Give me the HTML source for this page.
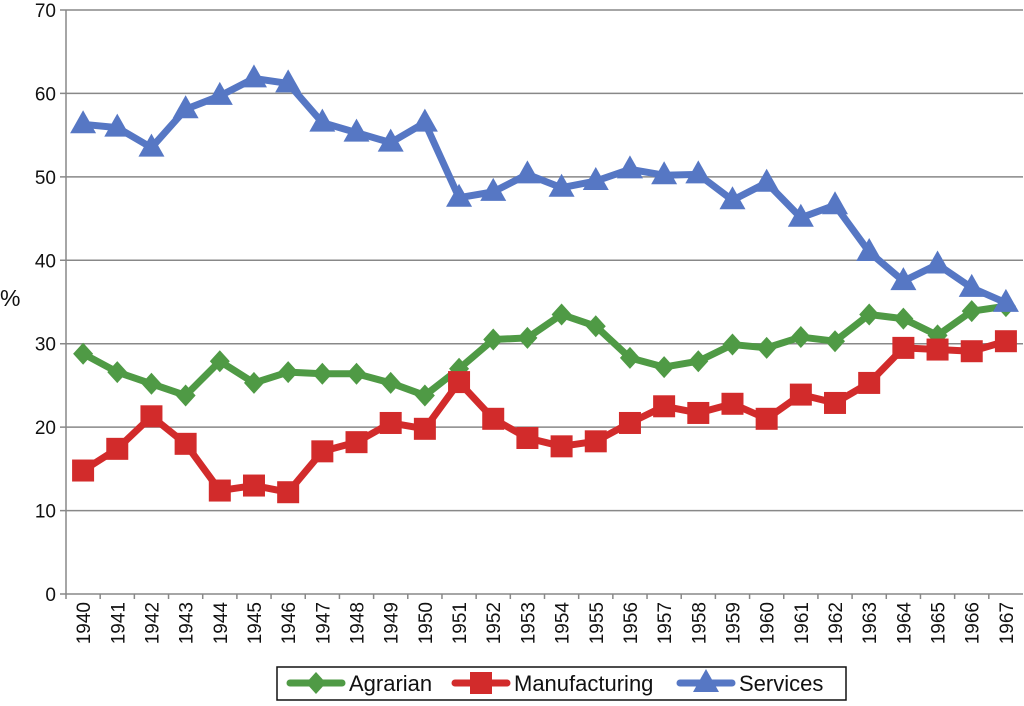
<!DOCTYPE html>
<html><head><meta charset="utf-8"><style>
body{margin:0;background:#fff;}
svg text{font-family:"Liberation Sans",sans-serif;fill:#111;}
</style></head><body>
<svg id="chart" width="1024" height="701" xmlns="http://www.w3.org/2000/svg"></svg>
<script>
const years=[1940,1941,1942,1943,1944,1945,1946,1947,1948,1949,1950,1951,1952,1953,1954,1955,1956,1957,1958,1959,1960,1961,1962,1963,1964,1965,1966,1967];
const agrarian=[28.8,26.6,25.2,23.8,27.9,25.3,26.6,26.4,26.4,25.3,23.8,27.0,30.5,30.7,33.5,32.1,28.3,27.2,27.9,29.9,29.5,30.8,30.3,33.5,33.0,31.0,33.9,34.5];
const manufacturing=[14.8,17.4,21.3,18.0,12.4,13.0,12.2,17.1,18.2,20.5,19.8,25.4,21.0,18.7,17.7,18.3,20.5,22.5,21.7,22.8,21.0,23.9,22.9,25.3,29.5,29.3,29.1,30.3];
const services=[56.3,55.9,53.5,58.1,59.7,61.8,61.2,56.5,55.3,54.1,56.5,47.5,48.2,50.3,48.7,49.5,50.9,50.2,50.3,47.2,49.3,45.1,46.6,41.0,37.5,39.5,36.7,34.9];
const yTicks=[0,10,20,30,40,50,60,70];

const svg=document.getElementById('chart');
const NS='http://www.w3.org/2000/svg';
const x0=66,x1=1023,y0=594,yTop=10,yMax=70;
const bw=(x1-x0)/years.length;
const X=i=>x0+bw*(i+0.5);
const Y=v=>y0-(v/yMax)*(y0-yTop);
function el(t,a,p){const e=document.createElementNS(NS,t);for(const k in a)e.setAttribute(k,a[k]);(p||svg).appendChild(e);return e;}

yTicks.forEach(t=>{
  const g=el('line',{x1:x0-6,x2:x1,y1:Y(t),y2:Y(t),stroke:'#888','stroke-width':1.5});
  
  
  const tx=el('text',{x:x0-10,y:Y(t)+7,'text-anchor':'end','font-size':19});
  tx.textContent=t;
  
  
});
const ax=el('line',{x1:x0,x2:x0,y1:yTop,y2:y0,stroke:'#888','stroke-width':1.5});


years.forEach((yr,i)=>{
  el('line',{x1:x0+bw*i,x2:x0+bw*i,y1:y0,y2:y0+5,stroke:'#888','stroke-width':1.5});
  const t=el('text',{x:0,y:0,'font-size':19,'text-anchor':'end',transform:`translate(${X(i)+7},${y0+8}) rotate(-90)`});
  t.textContent=yr;
  
  
});
const yl=el('text',{x:0,y:306,'font-size':23});
yl.textContent='%';



function marker(type,cx,cy,color,parent){
  if(type==='d')return el('polygon',{points:`${cx},${cy-11} ${cx+10},${cy} ${cx},${cy+11} ${cx-10},${cy}`,fill:color},parent);
  if(type==='s')return el('rect',{x:cx-11,y:cy-11,width:22,height:22,fill:color},parent);
  return el('polygon',{points:`${cx},${cy-14} ${cx+13},${cy+9} ${cx-13},${cy+9}`,fill:color},parent);
}
function series(name,data,color,type){
  const g=el('g',{});
  
  
  el('polyline',{points:data.map((v,i)=>X(i)+','+Y(v)).join(' '),fill:'none',stroke:color,'stroke-width':7,'stroke-linejoin':'round'},g);
  data.forEach((v,i)=>{const m=marker(type,X(i),Y(v),color,g);
    
    });
}
series('agrarian',agrarian,'#4f9a45','d');
series('manufacturing',manufacturing,'#d22b2b','s');
series('services',services,'#5677c4','t');

const lg=el('g',{});


el('rect',{x:277,y:667,width:569,height:33,fill:'#fff',stroke:'#111','stroke-width':1.5},lg);
[['Agrarian','#4f9a45','d',290],['Manufacturing','#d22b2b','s',455],['Services','#5677c4','t',680]].forEach(([n,c,t,lx])=>{
  const e=el('g',{},lg);
  
  
  el('line',{x1:lx,x2:lx+52,y1:683,y2:683,stroke:c,'stroke-width':7,'stroke-linecap':'round'},e);
  marker(t,lx+26,683,c,e);
  const tx=el('text',{x:lx+59,y:691,'font-size':22},e);tx.textContent=n;
});
</script>
</body></html>
